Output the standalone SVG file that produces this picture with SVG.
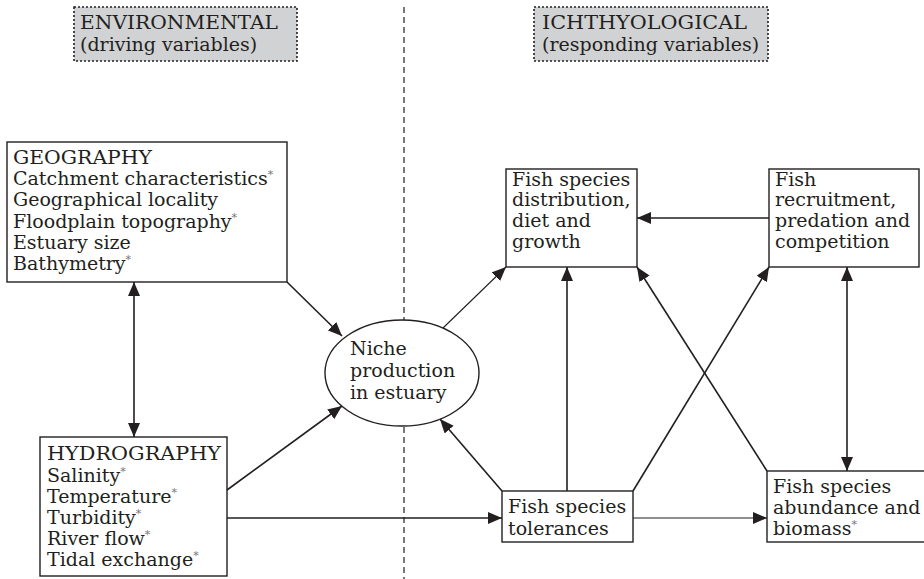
<svg xmlns="http://www.w3.org/2000/svg" width="924" height="579" viewBox="0 0 924 579">
<style>
text{font-family:"DejaVu Serif","Liberation Serif",serif;font-size:19px;fill:#231f20}
.box{fill:#fff;stroke:#231f20;stroke-width:1.4}
.hdr{fill:#d1d2d4;stroke:#231f20;stroke-width:1.6;stroke-dasharray:2 2}
.c{stroke:#231f20;stroke-width:1.6;fill:none}
.t{stroke:#231f20;stroke-width:1.1;fill:none}
.s{font-size:11px;fill:#777}
</style>
<defs>
<marker id="a" markerUnits="userSpaceOnUse" markerWidth="15" markerHeight="12" refX="14" refY="6" orient="auto-start-reverse">
<path d="M0,0 L14,6 L0,12 z" fill="#231f20"/>
</marker>
</defs>
<line x1="404" y1="7" x2="404" y2="579" stroke="#231f20" stroke-width="1.2" stroke-dasharray="6 4"/>
<g id="hdr-env">
<rect class="hdr" x="74" y="7" width="223" height="54"/>
<text x="80" y="29" textLength="198" lengthAdjust="spacingAndGlyphs">ENVIRONMENTAL</text>
<text x="80" y="51">(driving variables)</text>
</g>
<g id="hdr-ich">
<rect class="hdr" x="534" y="7" width="234" height="54"/>
<text x="542" y="29" textLength="205" lengthAdjust="spacingAndGlyphs">ICHTHYOLOGICAL</text>
<text x="542" y="51">(responding variables)</text>
</g>
<g id="geography">
<rect class="box" x="7" y="142" width="280" height="140"/>
<text x="13" y="164" textLength="139" lengthAdjust="spacingAndGlyphs">GEOGRAPHY</text>
<text x="13" y="185">Catchment characteristics<tspan class="s" dy="-7">*</tspan></text>
<text x="13" y="206">Geographical locality</text>
<text x="13" y="228">Floodplain topography<tspan class="s" dy="-7">*</tspan></text>
<text x="13" y="249">Estuary size</text>
<text x="13" y="270">Bathymetry<tspan class="s" dy="-7">*</tspan></text>
</g>
<g id="hydrography">
<rect class="box" x="40" y="437" width="187" height="139"/>
<text x="47" y="460" textLength="174" lengthAdjust="spacingAndGlyphs">HYDROGRAPHY</text>
<text x="47" y="482">Salinity<tspan class="s" dy="-7">*</tspan></text>
<text x="47" y="503">Temperature<tspan class="s" dy="-7">*</tspan></text>
<text x="47" y="524">Turbidity<tspan class="s" dy="-7">*</tspan></text>
<text x="47" y="545">River flow<tspan class="s" dy="-7">*</tspan></text>
<text x="47" y="566">Tidal exchange<tspan class="s" dy="-7">*</tspan></text>
</g>
<g id="niche">
<ellipse class="box" cx="402" cy="373" rx="77" ry="53"/>
<text x="350" y="355">Niche</text>
<text x="350" y="377">production</text>
<text x="350" y="399">in estuary</text>
</g>
<g id="distribution">
<rect class="box" x="506" y="169" width="131" height="98"/>
<text x="512" y="186">Fish species</text>
<text x="512" y="206">distribution,</text>
<text x="512" y="227">diet and</text>
<text x="512" y="248">growth</text>
</g>
<g id="recruitment">
<rect class="box" x="769" y="169" width="150" height="98"/>
<text x="775" y="186">Fish</text>
<text x="775" y="206">recruitment,</text>
<text x="775" y="227">predation and</text>
<text x="775" y="248">competition</text>
</g>
<g id="tolerances">
<rect class="box" x="502" y="491" width="131" height="51"/>
<text x="508" y="513">Fish species</text>
<text x="508" y="535">tolerances</text>
</g>
<g id="abundance">
<rect class="box" x="767" y="471" width="160" height="71"/>
<text x="773" y="493">Fish species</text>
<text x="773" y="514">abundance and</text>
<text x="773" y="535">biomass<tspan class="s" dy="-7">*</tspan></text>
</g>
<g id="connectors">
<line class="c" x1="134" y1="282" x2="134" y2="437" marker-start="url(#a)" marker-end="url(#a)"/>
<line class="c" x1="287" y1="282" x2="342" y2="336" marker-end="url(#a)"/>
<line class="c" x1="227" y1="490" x2="342" y2="406" marker-end="url(#a)"/>
<line class="c" x1="227" y1="518" x2="502" y2="518" marker-end="url(#a)"/>
<line class="c" x1="502" y1="491" x2="440" y2="419" marker-end="url(#a)"/>
<line class="t" x1="443" y1="328" x2="506" y2="267" marker-end="url(#a)"/>
<line class="c" x1="769" y1="218" x2="637" y2="218" marker-end="url(#a)"/>
<line class="c" x1="567" y1="491" x2="567" y2="267" marker-end="url(#a)"/>
<line class="c" x1="633" y1="491" x2="769" y2="267" marker-end="url(#a)"/>
<line class="c" x1="767" y1="471" x2="637" y2="267" marker-end="url(#a)"/>
<line class="c" x1="847" y1="267" x2="847" y2="471" marker-start="url(#a)" marker-end="url(#a)"/>
<line class="t" x1="633" y1="518" x2="767" y2="518" marker-end="url(#a)"/>
</g>
</svg>
